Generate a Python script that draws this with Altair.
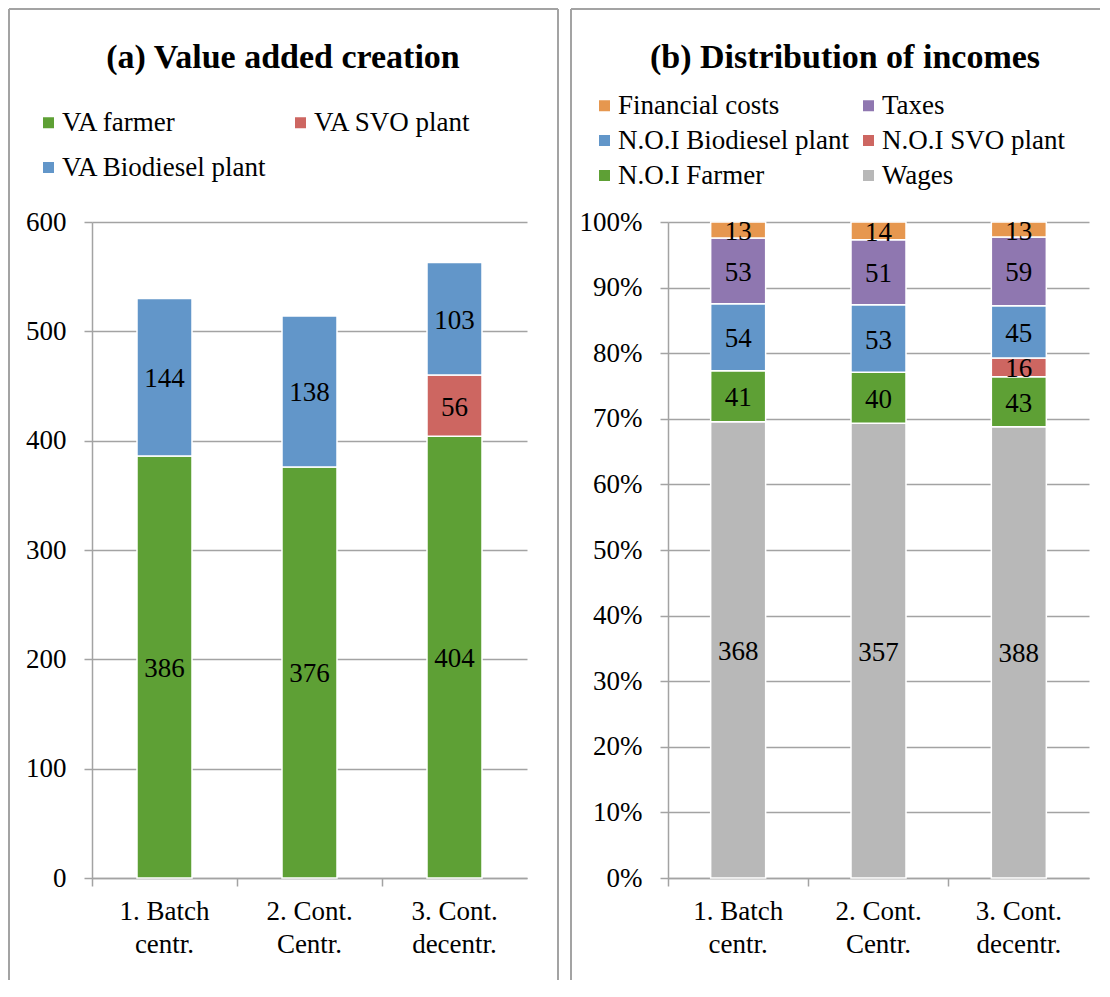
import altair as alt
import pandas as pd

# ---------------- data ----------------
scenarios = ["1. Batch\ncentr.", "2. Cont.\nCentr.", "3. Cont.\ndecentr."]

va_series = ["VA farmer", "VA SVO plant", "VA Biodiesel plant"]
va_colors = ["#5EA035", "#CD6661", "#6296C9"]
va_farmer = [386, 376, 404]
va_svo = [None, None, 56]
va_biodiesel = [144, 138, 103]

inc_series = ["Financial costs", "Taxes", "N.O.I Biodiesel plant",
              "N.O.I SVO plant", "N.O.I Farmer", "Wages"]
inc_colors = ["#E6974F", "#8F77B0", "#6296C9", "#CD6661", "#5EA035", "#B8B8B8"]
wages = [368, 357, 388]
noi_farmer = [41, 40, 43]
noi_svo = [None, None, 16]
noi_biodiesel = [54, 53, 45]
taxes = [53, 51, 59]
fin_costs = [13, 14, 13]

title_a = "(a) Value added creation"
title_b = "(b) Distribution of incomes"


def long_frame(series_lists):
    rows = []
    for order, (name, vals) in enumerate(series_lists):
        for s, v in zip(scenarios, vals):
            if v is not None:
                rows.append({"scenario": s, "series": name, "value": v, "order": order})
    return pd.DataFrame(rows)


df_a = long_frame([("VA farmer", va_farmer), ("VA SVO plant", va_svo),
                   ("VA Biodiesel plant", va_biodiesel)])
df_b = long_frame([("Wages", wages), ("N.O.I Farmer", noi_farmer),
                   ("N.O.I SVO plant", noi_svo), ("N.O.I Biodiesel plant", noi_biodiesel),
                   ("Taxes", taxes), ("Financial costs", fin_costs)])

FONT = "Liberation Serif"
GRID = "#A3A3A3"
FS = 27


def x_label_axis():
    return alt.Axis(title=None, labelExpr="split(datum.label, '\\n')", labelLineHeight=33,
                    labelFont=FONT, labelFontSize=FS, labelColor="black", labelAngle=0,
                    labelPadding=20, ticks=False, domain=True, domainColor=GRID,
                    domainWidth=1.5, grid=False, orient="bottom")


def x_tick_axis():
    return alt.Axis(title=None, labels=False, domain=False, ticks=True, tickSize=8,
                    tickColor=GRID, tickWidth=1.5, bandPosition=0, grid=False,
                    orient="bottom")


def y_axis(fmt=None, values=None):
    kw = dict(title=None, labelFont=FONT, labelFontSize=FS, labelColor="black",
              labelPadding=18, tickSize=8, tickColor=GRID, tickWidth=1.5,
              domain=True, domainColor=GRID, domainWidth=1.5,
              grid=True, gridColor=GRID, gridWidth=1.5, values=values)
    if fmt:
        kw["format"] = fmt
    return alt.Axis(**kw)


def legend(x, y, row_pad, col_pad):
    return alt.Legend(orient="none", legendX=x, legendY=y, columns=2, direction="horizontal",
                      title=None, labelFont=FONT, labelFontSize=FS, labelColor="black",
                      symbolType="square", symbolSize=121, symbolStrokeWidth=0,
                      labelOffset=0, rowPadding=row_pad, columnPadding=col_pad,
                      padding=0, labelLimit=500)


def decorations(title, left, right, top, bottom, tx, draw_right=True):
    one = pd.DataFrame({"t": [title]})
    layers = []
    base = alt.Chart(one)
    layers.append(base.mark_rule(color=GRID, strokeWidth=2).encode(
        x=alt.value(left), x2=alt.value(right), y=alt.value(top)))
    layers.append(base.mark_rule(color=GRID, strokeWidth=2).encode(
        x=alt.value(left), y=alt.value(top), y2=alt.value(bottom)))
    if draw_right:
        layers.append(base.mark_rule(color=GRID, strokeWidth=2).encode(
            x=alt.value(right), y=alt.value(top), y2=alt.value(bottom)))
    layers.append(base.mark_text(font=FONT, fontSize=34, fontWeight="bold", color="black",
                                 align="center", baseline="alphabetic").encode(
        x=alt.value(tx), y=alt.value(-154), text="t:N"))
    return layers


# ---------------- panel (a) ----------------
W_A, H = 435, 656
stack_a = alt.Chart(df_a).transform_stack(
    stack="value", groupby=["scenario"], as_=["y0", "y1"],
    sort=[alt.SortField("order", order="ascending")])
ya = y_axis(values=[0, 100, 200, 300, 400, 500, 600])
xs_a = alt.Scale(domain=scenarios, paddingInner=0, paddingOuter=0)

bars_a = stack_a.mark_bar(size=55, stroke="white", strokeWidth=1.5).encode(
    x=alt.X("scenario:N", scale=xs_a, axis=x_label_axis()),
    y=alt.Y("y0:Q", scale=alt.Scale(domain=[0, 600]), axis=ya),
    y2="y1:Q",
    color=alt.Color("series:N", scale=alt.Scale(domain=va_series, range=va_colors),
                    legend=legend(-57, -113, 17, 20)),
)
text_a = stack_a.transform_calculate(mid="(datum.y0 + datum.y1) / 2").mark_text(
    font=FONT, fontSize=FS, color="black", baseline="middle", dy=2).encode(
    x=alt.X("scenario:N", scale=xs_a, axis=x_tick_axis()),
    y=alt.Y("mid:Q", scale=alt.Scale(domain=[0, 600]), axis=ya),
    text="value:Q",
)
chart_a = alt.layer(bars_a, text_a, *decorations(title_a, -83, 466, -213, 758, 191)).resolve_axis(
    x="independent").properties(width=W_A, height=H)

# ---------------- panel (b) ----------------
W_B = 421
stack_b = alt.Chart(df_b).transform_stack(
    stack="value", groupby=["scenario"], as_=["y0", "y1"], offset="normalize",
    sort=[alt.SortField("order", order="ascending")])
yb = y_axis(fmt=".0%", values=[i / 10 for i in range(11)])
xs_b = alt.Scale(domain=scenarios, paddingInner=0, paddingOuter=0)

bars_b = stack_b.mark_bar(size=55, stroke="white", strokeWidth=1.5).encode(
    x=alt.X("scenario:N", scale=xs_b, axis=x_label_axis()),
    y=alt.Y("y0:Q", scale=alt.Scale(domain=[0, 1]), axis=yb),
    y2="y1:Q",
    color=alt.Color("series:N", scale=alt.Scale(domain=inc_series, range=inc_colors),
                    legend=legend(-77, -130, 7, 6)),
)
text_b = stack_b.transform_calculate(mid="(datum.y0 + datum.y1) / 2").mark_text(
    font=FONT, fontSize=FS, color="black", baseline="middle", dy=2).encode(
    x=alt.X("scenario:N", scale=xs_b, axis=x_tick_axis()),
    y=alt.Y("mid:Q", scale=alt.Scale(domain=[0, 1]), axis=yb),
    text="value:Q",
)
chart_b = alt.layer(bars_b, text_b, *decorations(title_b, -97, 432, -213, 758, 177,
                                                 draw_right=False)).resolve_axis(
    x="independent").properties(width=W_B, height=H)

chart = alt.hconcat(chart_a, chart_b, spacing=11).resolve_scale(
    color="independent").properties(padding=0).configure_view(stroke=None)

chart.save("out.html", embed_options={"renderer": "svg", "actions": False})
